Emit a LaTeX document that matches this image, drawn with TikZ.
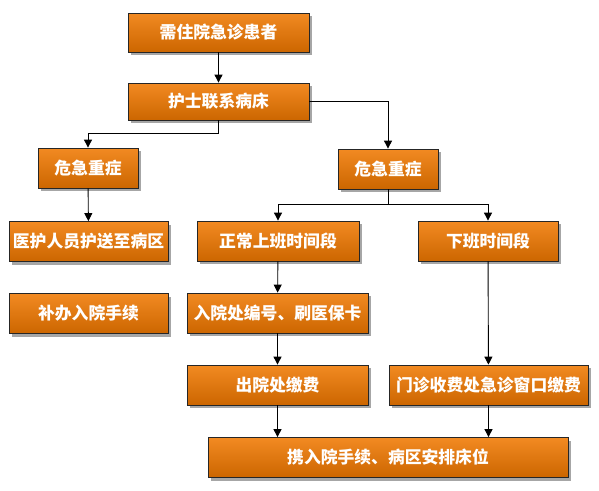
\documentclass[tikz,border=0pt]{standalone}
\usepackage{fontspec}
\newfontfamily\cjk{Noto Sans CJK SC}
\usetikzlibrary{arrows.meta, calc, shadows}
\definecolor{boxtop}{HTML}{F28A22}
\definecolor{boxbot}{HTML}{CC6600}
\tikzset{
    box/.style = {rectangle, draw=black!85, line width=0.8pt, top color=boxtop, bottom color=boxbot,
                  minimum height=40pt, inner sep=0pt, text=white, font=\cjk\bfseries\fontsize{16.8}{19}\selectfont,
                  drop shadow={shadow xshift=3pt, shadow yshift=-3pt, fill=black!35, opacity=1}},
    arr/.style = {-{Triangle[length=8pt, width=8pt]}, line width=0.9pt}
}
\begin{document}
\begin{tikzpicture}[x=1pt, y=-1pt]
\useasboundingbox (0,0) rectangle (599,490);
% Top column
\node[box, minimum width=181pt, minimum height=39pt] (need) at (218.5, 32.5) {需住院急诊患者};
\node[box, minimum width=181pt, minimum height=37pt] (nurse) at (218.5, 101.5) {护士联系病床};

% Left side
\node[box, minimum width=100pt] (critL) at (88, 168) {危急重症};
\node[box, minimum width=159pt] (escort) at (88.5, 241.5) {医护人员护送至病区};
\node[box, minimum width=159pt] (formal) at (88.5, 313.5) {补办入院手续};

% Right side
\node[box, minimum width=100pt] (critR) at (388, 169) {危急重症};
\node[box, minimum width=162pt] (work) at (278, 241) {正常上班时间段};
\node[box, minimum width=140pt] (offwork) at (488, 241) {下班时间段};
\node[box, minimum width=181pt] (card) at (277.5, 313) {入院处编号、刷医保卡};
\node[box, minimum width=181pt] (payin) at (277.5, 385) {出院处缴费};
\node[box, minimum width=199pt] (payout) at (488.5, 385) {门诊收费处急诊窗口缴费};

% Bottom
\node[box, minimum width=360pt] (bed) at (388, 457.5) {携入院手续、病区安排床位};

% need -> nurse
\draw[arr] (need) -- (nurse);
% nurse -> both critical boxes
\draw[arr] (nurse.south) -- ++(0,13) -| (critL.north);
\draw[arr] (nurse.east) -| (critR.north);

% left branch
\draw[arr] (critL) -- (escort);

% right branch splits
\draw[arr] (critR.south) -- ++(0,15) -| (work.north);
\draw[arr] (critR.south) -- ++(0,15) -| (offwork.north);
\draw[arr] (work) -- (card);
\draw[arr] (card) -- (payin);
\draw[arr] (offwork) -- (payout);

% both payments -> bed
\draw[arr] (payin.south) -- (payin.south |- bed.north);
\draw[arr] (payout.south) -- (payout.south |- bed.north);
\end{tikzpicture}
\end{document}
